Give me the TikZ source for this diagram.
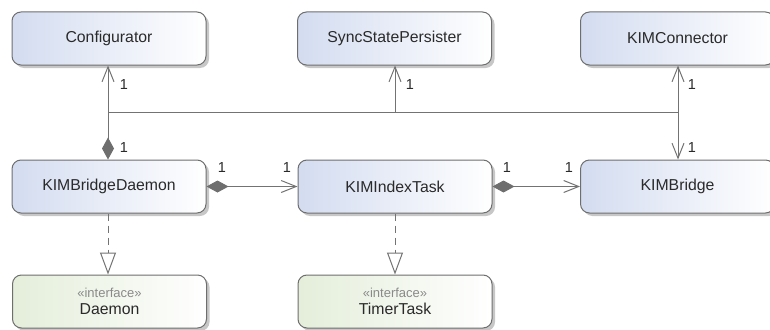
\documentclass[tikz,border=0pt]{standalone}
\usepackage{fontspec}
\setmainfont{Liberation Sans}
\usetikzlibrary{arrows.meta,shadows}
\definecolor{bluebox}{HTML}{D3DCF0}
\definecolor{greenbox}{HTML}{E4EEDA}
\definecolor{edge}{HTML}{6E6E6E}
\definecolor{wire}{HTML}{737373}
\definecolor{txt}{HTML}{2A2A2A}
\definecolor{stereo}{HTML}{8A8A8A}
\tikzset{
  umlbox/.style={draw=edge, line width=1pt, rounded corners=9pt,
    minimum width=194pt, minimum height=53pt, inner sep=0pt,
    text=txt, font=\fontsize{15.8}{18}\selectfont,
    drop shadow={shadow xshift=3pt, shadow yshift=-3pt, fill=black, opacity=0.22}},
  classbox/.style={umlbox, left color=bluebox, right color=white},
  ifacebox/.style={umlbox, left color=greenbox, right color=white, align=center},
  wireline/.style={draw=wire, line width=1pt},
  assoc/.style={wireline, -{Straight Barb[length=15pt, width=12pt, line width=1pt]}},
  compassoc/.style={wireline, {Diamond[length=22pt, width=12pt, fill=edge, color=edge]}-{Straight Barb[length=15pt, width=12pt, line width=1pt]}},
  compos/.style={wireline, {Diamond[length=22pt, width=12pt, fill=edge, color=edge]}-},
  realize/.style={wireline, dash pattern=on 7pt off 5pt, -{Triangle[open, length=22pt, width=16pt, fill=white, line width=1pt]}},
  mult/.style={text=txt, font=\fontsize{14.5}{16}\selectfont, inner sep=0pt}
}
\begin{document}
\begin{tikzpicture}[x=1pt, y=-1pt]
\useasboundingbox (0,0) rectangle (770,329);
% top row
\node[classbox] (conf) at (109,38.5) {Configurator};
\node[classbox] (ssp) at (394.5,38.5) {SyncStatePersister};
\node[classbox] (kc) at (677.5,38.5) {KIMConnector};
% middle row
\node[classbox] (bd) at (109,186.5) {KIMBridgeDaemon};
\node[classbox] (kit) at (395,186.5) {KIMIndexTask};
\node[classbox] (kb) at (677.5,186.5) {KIMBridge};
% bottom row
\node[ifacebox] (dae) at (109.5,301.5) {{\color{stereo}\fontsize{13}{19}\selectfont «interface»}\\[-1pt]Daemon};
\node[ifacebox] (tt) at (395,301.5) {{\color{stereo}\fontsize{13}{19}\selectfont «interface»}\\[-1pt]TimerTask};
% junctions
\coordinate (j1) at (108,112);
\coordinate (j2) at (395,112);
\coordinate (j3) at (678,112);
% trunk associations
\draw[compos] (bd.north -| j1) -- (j1);
\draw[wireline] (j1) -- (j3);
\draw[assoc] (j1) -- (conf.south -| j1);
\draw[assoc] (j2) -- (ssp.south -| j2);
\draw[assoc] (j3) -- (kc.south -| j3);
\draw[assoc] (j3) -- (kb.north -| j3);
% horizontal compositions
\draw[compassoc] (bd.east) -- (kit.west);
\draw[compassoc] (kit.east) -- (kb.west);
% realizations
\draw[realize] (bd.south -| j1) -- (dae.north -| j1);
\draw[realize] (kit.south) -- (tt.north);
% multiplicities
\node[mult] (m1) at (124,85) {1};
\node[mult] (m2) at (410,85) {1};
\node[mult] (m3) at (692,85) {1};
\node[mult] (m4) at (692,148) {1};
\node[mult] (m5) at (124,148) {1};
\node[mult] (m6) at (222,168) {1};
\node[mult] (m7) at (287,168) {1};
\node[mult] (m8) at (507,168) {1};
\node[mult] (m9) at (569,168) {1};
\end{tikzpicture}
\end{document}
